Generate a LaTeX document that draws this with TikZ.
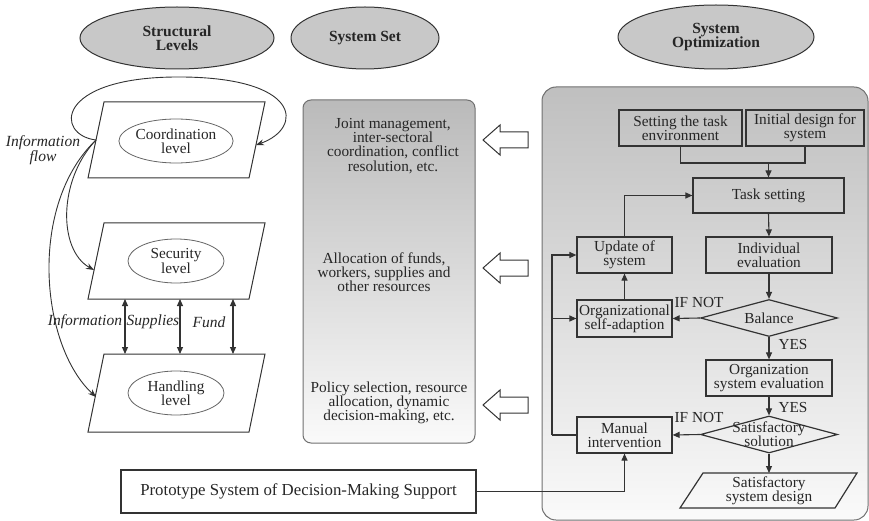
\documentclass[tikz,border=0pt]{standalone}
\usepackage{fontspec}
\setmainfont{Liberation Serif}
\usetikzlibrary{arrows.meta,shapes.geometric}
\definecolor{ln}{HTML}{333333}
\definecolor{hd}{HTML}{C8C8C8}
\begin{document}
\begin{tikzpicture}[x=1pt,y=-1pt,
  txt/.style={font=\fontsize{15.3}{14.2}\selectfont, text=black!85, align=center, inner sep=0},
  head/.style={ellipse, draw=ln, line width=1, fill=hd, txt, font=\fontsize{15.5}{14.2}\selectfont\bfseries},
  lvl/.style={ellipse, draw=ln!75, line width=0.8, txt, minimum width=96, minimum height=44},
  pgram/.style={draw=ln, line width=1},
  optbox/.style={draw=ln, line width=1.2, txt, minimum height=36},
  decide/.style={diamond, draw=ln, line width=1.2, inner sep=0, minimum width=137, minimum height=37},
  lab/.style={txt, text=black!85},
  ilab/.style={txt, font=\fontsize{15.5}{14.2}\selectfont\itshape},
  arr/.style={draw=ln, line width=1.1, -{Triangle[length=7pt,width=6pt]}},
  plain/.style={draw=ln, line width=1.1},
  dbl/.style={draw=ln, line width=1.1, {Triangle[length=7pt,width=6pt]}-{Triangle[length=7pt,width=6pt]}},
  flow/.style={draw=ln, line width=0.9, -{Stealth[length=8pt,width=6pt]}},
  hollow/.style={draw=ln, line width=1, fill=white}
]
\useasboundingbox (0,0) rectangle (869,521);

% ---- column headings
\node[head, minimum width=194, minimum height=62] (h1) at (177,38) {Structural\\Levels};
\node[head, minimum width=148, minimum height=62] (h2) at (365,38) {System Set};
\node[head, minimum width=196, minimum height=64] (h3) at (716,37) {System\\Optimization};

% ---- structural levels (parallelograms)
\draw[pgram] (88,178) -- (249,178) -- (265,102) -- (104,102) -- cycle;
\draw[pgram] (88,299) -- (249,299) -- (265,223) -- (104,223) -- cycle;
\draw[pgram] (88,432) -- (249,432) -- (265,354) -- (104,354) -- cycle;
\node[lvl] (coord) at (176,141) {Coordination\\level};
\node[lvl] (sec)   at (176,261) {Security\\level};
\node[lvl] (hand)  at (176,393) {Handling\\level};

\coordinate (coordL) at (96,140);
\coordinate (coordR) at (256,145);
\coordinate (secL)   at (94,270);
\coordinate (handL)  at (96,397);

% information flow loops
\draw[flow] (coordL) .. controls (55,135) and (55,78) .. (175,77)
                     .. controls (302,76) and (304,128) .. (coordR);
\draw[flow] (coordL) .. controls (58,180) and (58,250) .. (secL);
\draw[flow] (coordL) .. controls (28,205) and (40,345) .. (handL);
\node[ilab] (iflow) at (43,150) {Information\\flow};

% exchanges between security and handling levels
\foreach \xx/\nm in {125/a,180/b,233/c}{
  \coordinate (s\nm) at (\xx,299);
  \coordinate (h\nm) at (\xx,354);
  \draw[dbl] (s\nm) -- (h\nm);
}
\node[ilab] (linfo) at (85,322) {Information};
\node[ilab] (lsup)  at (153,322) {Supplies};
\node[ilab] (lfund) at (209,322) {Fund};

% ---- system set column
\draw[rounded corners=8, draw=ln!70, line width=1, top color=black!27, bottom color=black!2]
  (303,100) rectangle (475,443);
\node[txt] (s1) at (393,146) {Joint management,\\inter-sectoral\\coordination, conflict\\resolution, etc.};
\node[txt] (s2) at (384,272) {Allocation of funds,\\workers, supplies and\\other resources};
\node[txt] (s3) at (389,403) {Policy selection, resource\\allocation, dynamic\\decision-making, etc.};

\foreach \yy in {140,268,405}{
  \draw[hollow] (483,\yy) -- (500,\yy-15) -- (500,\yy-8) -- (528,\yy-8)
     -- (528,\yy+8) -- (500,\yy+8) -- (500,\yy+15) -- cycle;
}

% ---- system optimization panel
\draw[rounded corners=14, draw=ln!70, line width=1, top color=black!25, bottom color=black!2]
  (542,87) rectangle (868,520);

\node[optbox, minimum width=123] (env)  at (680.5,128) {Setting the task\\environment};
\node[optbox, minimum width=118] (init) at (805,128)   {Initial design for\\system};
\node[optbox, minimum width=151, minimum height=35] (task) at (768.5,195.5) {Task setting};
\node[optbox, minimum width=126] (ind)  at (769,255)   {Individual\\evaluation};
\node[optbox, minimum width=95]  (upd)  at (624.5,255) {Update of\\system};
\node[optbox, minimum width=95, minimum height=37] (org) at (624.5,318.5) {Organizational\\self-adaption};
\node[decide] (bal) at (769,318) {};
\node[txt] (balT) at (bal) {Balance};
\node[optbox, minimum width=126] (ose) at (769,378) {Organization\\system evaluation};
\node[decide] (sat) at (769,434.5) {};
\node[txt] (satT) at (sat) {Satisfactory\\solution};
\node[optbox, minimum width=95] (man) at (624.5,435) {Manual\\intervention};

\draw[draw=ln, line width=1.2] (680,508) -- (835,508) -- (857,473) -- (703,473) -- cycle;
\coordinate (desTop) at (769,473);
\node[txt] (des) at (769,491) {Satisfactory\\system design};

% merge of the two inputs
\coordinate (merge) at (768.5,163);
\draw[plain] (env.south) |- (merge) -| (init.south);
\draw[arr] (merge) -- (task.north);

\draw[arr] (task.south) -- (ind.north);
\draw[arr] (ind.south) -- (bal.north);
\draw[arr] (bal.west) -- (org.east);
\draw[arr] (org.north) -- (upd.south);
\draw[arr] (upd.north) |- (task.west);
\draw[arr] (bal.south) -- (ose.north);
\draw[arr] (ose.south) -- (sat.north);
\draw[arr] (sat.west) -- (man.east);
\draw[arr] (sat.south) -- (desTop);

\node[lab] (n1) at (699,303) {IF NOT};
\node[lab] (n2) at (699,418) {IF NOT};
\node[lab] (y1) at (793,345) {YES};
\node[lab] (y2) at (793,408) {YES};

% feedback from manual intervention
\coordinate (fb) at (552,435);
\draw[plain] (man.west) -- (fb);
\draw[arr] (fb) |- (upd.west);
\draw[arr] (fb |- org.west) -- (org.west);

% ---- prototype decision-making support
\node[draw=ln, line width=1.1, txt, font=\fontsize{16.8}{16}\selectfont, minimum width=355, minimum height=43] (proto) at (298.5,491.5)
  {Prototype System of Decision-Making Support};
\draw[arr] (proto.east) -| (man.south);

\end{tikzpicture}
\end{document}
